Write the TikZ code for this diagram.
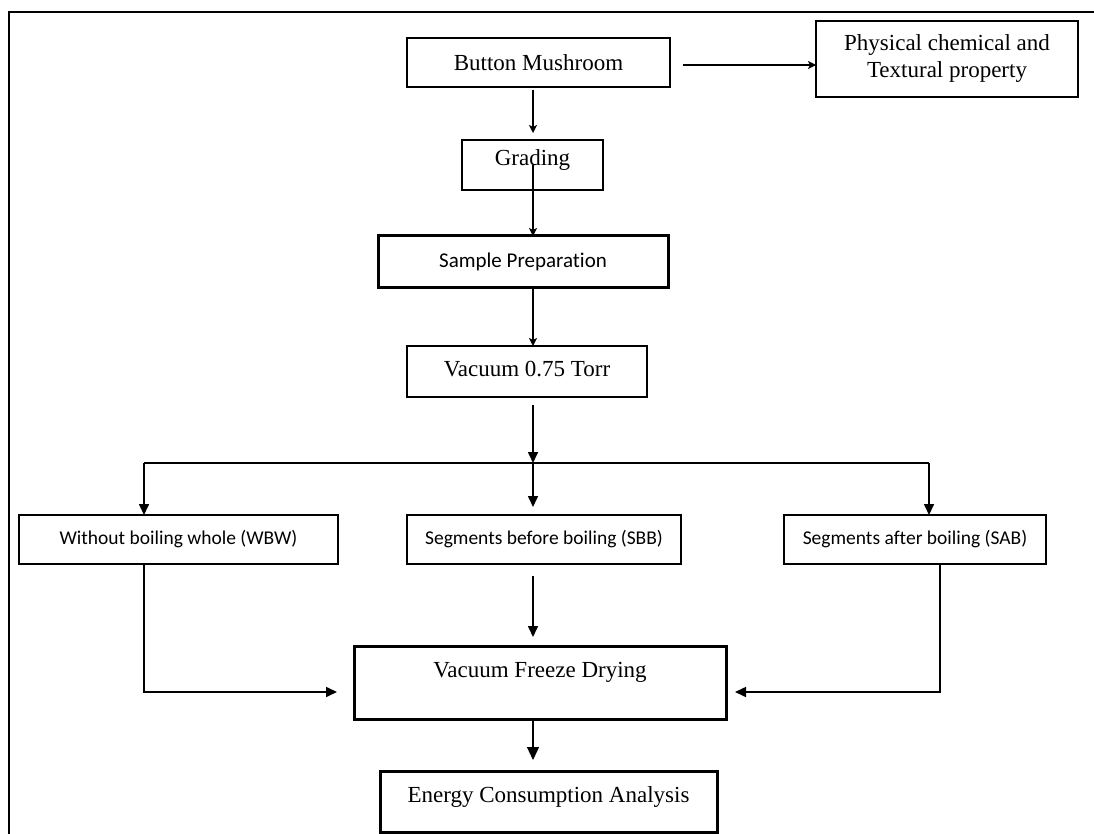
\documentclass[tikz,border=0pt]{standalone}
\usepackage{fontspec}
\setmainfont{Liberation Serif}
\newfontfamily\calibri{Carlito}[Ligatures=NoCommon]
\usetikzlibrary{arrows.meta,positioning}

\begin{document}
\begin{tikzpicture}[x=1pt, y=-1pt, node distance={40pt},
        box/.style = {draw, line width=1.2pt, outer sep=0pt, inner sep=0pt, font=\fontsize{23}{27}\selectfont},
        heavy/.style = {box, line width=3pt},
        sans/.style = {font=\calibri\fontsize{19.5}{23}\selectfont},
        thinarrow/.style = {line width=1.2pt, -{Stealth[length=8pt,width=8pt,inset=2pt]}},
        fatarrow/.style = {line width=1.6pt, -{Triangle[length=11pt,width=10pt]}}]
    \useasboundingbox (0,0) rectangle (1094,834);
    \draw[line width=2pt] (1094,12) -- (9,12) -- (9,834);

    \node[box, minimum width=263pt, minimum height=49pt] (button) at (538.5,62.5) {Button Mushroom};
    \node[box, minimum width=262pt, minimum height=76pt, align=center] (physical) [right=146pt of button, yshift=3.5pt] {Physical chemical and\\Textural property};
    \node[box, minimum width=141pt, minimum height=50pt, text depth=15pt] (grading) [below=53pt of button, xshift=-6pt] {Grading};
    \node[heavy, font=\calibri\fontsize{21}{25}\selectfont, minimum width=290pt, minimum height=51pt] (prep) [below=46pt of grading, xshift=-9.5pt] {Sample Preparation};
    \node[box, minimum width=240pt, minimum height=51pt, text depth=5pt] (vacuum) [below=59pt of prep, xshift=4pt] {Vacuum 0.75 Torr};

    \node[box, sans, minimum width=274pt, minimum height=49pt] (sbb) [below=118pt of vacuum, xshift=17pt] {Segments before boiling (SBB)};
    \node[box, sans, minimum width=319pt, minimum height=49pt] (wbw) [left=69pt of sbb] {Without boiling whole (WBW)};
    \node[box, sans, minimum width=262pt, minimum height=49pt] (sab) [right=103pt of sbb] {Segments after boiling (SAB)};

    \node[heavy, minimum width=372pt, minimum height=73pt, text depth=26pt] (vfd) [below=82pt of sbb, xshift=-4pt] {Vacuum Freeze Drying};
    \node[heavy, minimum width=337pt, minimum height=61pt, text depth=14pt] (energy) [below=52pt of vfd, xshift=8.5pt] {Energy Consumption Analysis};

    \coordinate (split) at ([xshift=6pt, yshift=-66pt]vacuum.south);
    \coordinate (lefttap) at ([xshift=-34.5pt]wbw.north);
    \coordinate (righttap) at ([xshift=14pt]sab.north);
    \coordinate (side) at ([xshift=13pt, yshift=-2.5pt]button.east);

    \draw[thinarrow] (side) -- (side -| physical.west);
    \draw[thinarrow, shorten <=3pt, shorten >=7pt] (button.south -| split) -- (grading.north -| split);
    \draw[thinarrow] (grading.center -| split) -- (prep.north -| split);
    \draw[thinarrow] (prep.south -| split) -- (vacuum.north -| split);

    \draw[fatarrow, shorten <=8pt] (vacuum.south -| split) -- (split);
    \draw[line width=1.6pt] (lefttap |- split) -- (righttap |- split);
    \draw[fatarrow] (lefttap |- split) -- (lefttap);
    \draw[fatarrow, shorten >=8pt] (split) -- (sbb.north -| split);
    \draw[fatarrow] (righttap |- split) -- (righttap);

    \draw[fatarrow, shorten <=12pt, shorten >=9pt] (sbb.south -| split) -- (vfd.north -| split);
    \draw[fatarrow, shorten >=17pt] (lefttap |- wbw.south) |- ([yshift=-9.5pt]vfd.west);
    \draw[fatarrow, shorten >=9pt] ([xshift=25pt]sab.south) |- ([yshift=-9.5pt]vfd.east);
    \draw[line width=1.2pt, -{Triangle[length=13pt,width=12pt]}, shorten >=11pt] (vfd.south -| split) -- (energy.north -| split);
\end{tikzpicture}
\end{document}
